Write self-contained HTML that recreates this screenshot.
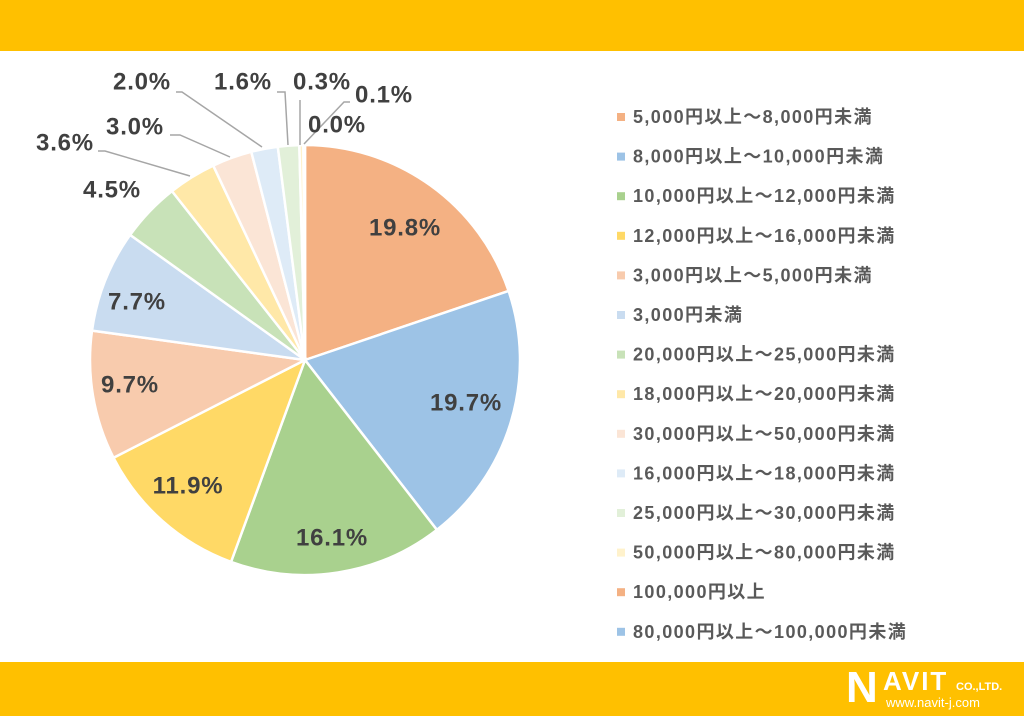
<!DOCTYPE html>
<html><head><meta charset="utf-8"><style>
body{margin:0;width:1024px;height:716px;background:#fff;overflow:hidden;font-family:"Liberation Sans","Noto Sans CJK JP",sans-serif}
</style></head><body>
<svg id="s" width="1024" height="716" xmlns="http://www.w3.org/2000/svg">
<rect x="0" y="0" width="1024" height="51" fill="#FFC000"/>
<rect x="0" y="662" width="1024" height="54" fill="#FFC000"/>
<g id="pie"></g>
<g stroke="#A6A6A6" stroke-width="1.5" fill="none">
<polyline points="176,92 182,92 262,147"/>
<polyline points="277,92 285,92 288,145"/>
<polyline points="300,100 300,145"/>
<polyline points="350,102 344,102 304,144"/>
<polyline points="170,135 180,135 230,157"/>
<polyline points="98,151 105,151 190,176"/>
</g>
<g font-weight="bold" font-size="24" letter-spacing="0.8" fill="#404040" text-anchor="middle" dominant-baseline="central">
<text x="405" y="228">19.8%</text><text x="466" y="403">19.7%</text>
<text x="332" y="538">16.1%</text><text x="188" y="486">11.9%</text>
<text x="130" y="385">9.7%</text><text x="137" y="302">7.7%</text>
<text x="112" y="190">4.5%</text><text x="65" y="143">3.6%</text>
<text x="135" y="127">3.0%</text><text x="142" y="82">2.0%</text>
<text x="243" y="82">1.6%</text><text x="322" y="82">0.3%</text>
<text x="384" y="95">0.1%</text><text x="337" y="125">0.0%</text>
</g>
<g id="leg" font-weight="bold" font-size="18" letter-spacing="1.4" fill="#595959"></g>
<text x="846" y="702" font-size="44" font-weight="bold" fill="#fff">N</text>
<text x="883" y="690" font-size="26" font-weight="bold" fill="#fff" letter-spacing="2">AVIT</text>
<text x="956" y="690" font-size="11" font-weight="bold" fill="#fff">CO.,LTD.</text>
<text x="886" y="707" font-size="13" fill="#fff">www.navit-j.com</text>
</svg>
<script>
var d=[19.8,19.7,16.1,11.9,9.7,7.7,4.5,3.6,3.0,2.0,1.6,0.3,0.1,0.02];
var c=["#F4B183","#9DC3E6","#A9D18E","#FFD966","#F8CBAD","#C9DCF0","#C8E2B8","#FFE8A8","#FBE5D6","#DEEBF7","#E2F0D9","#FFF2CC","#F4B183","#9DC3E6"];
var cx=305,cy=360,r=215,a=0,g=document.getElementById('pie'),h='';
var tot=d.reduce((x,y)=>x+y,0);
d.forEach(function(v,i){var b=a+v/tot*2*Math.PI;
var x1=cx+r*Math.sin(a),y1=cy-r*Math.cos(a),x2=cx+r*Math.sin(b),y2=cy-r*Math.cos(b);
h+='<path d="M'+cx+','+cy+'L'+x1+','+y1+'A'+r+','+r+' 0 '+((b-a)>Math.PI?1:0)+' 1 '+x2+','+y2+'Z" fill="'+c[i]+'" stroke="#fff" stroke-width="2.5"/>';a=b;});
g.innerHTML=h;
var L=["5,000円以上～8,000円未満","8,000円以上～10,000円未満","10,000円以上～12,000円未満","12,000円以上～16,000円未満","3,000円以上～5,000円未満","3,000円未満","20,000円以上～25,000円未満","18,000円以上～20,000円未満","30,000円以上～50,000円未満","16,000円以上～18,000円未満","25,000円以上～30,000円未満","50,000円以上～80,000円未満","100,000円以上","80,000円以上～100,000円未満"];
var s='';L.forEach(function(t,i){var y=117+i*39.6;s+='<rect x="617" y="'+(y-4)+'" width="8" height="8" fill="'+c[i]+'"/><text x="633" y="'+(y+6)+'">'+t+'</text>';});
document.getElementById('leg').innerHTML=s;
</script>
</body></html>
